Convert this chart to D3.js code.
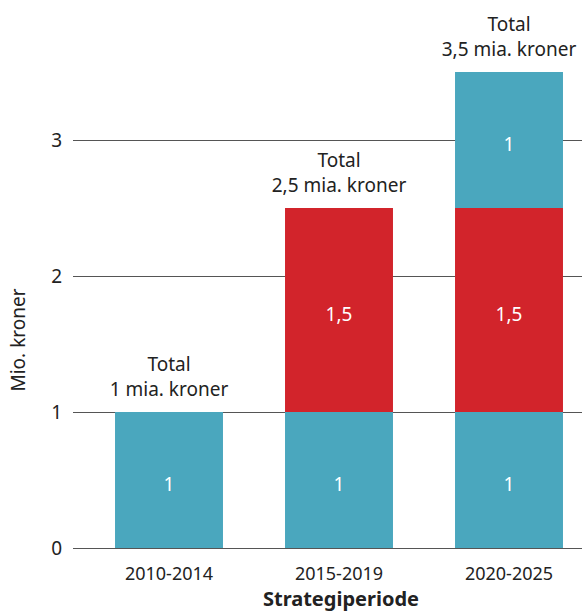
<!DOCTYPE html>
<html>
<head>
    <meta charset="utf-8">
    <title>Strategiperiode</title>
    <script src="https://d3js.org/d3.v7.min.js"></script>
    <style>
        body { margin: 0; background: #fff; }
        text { font-family: "Noto Sans", "Open Sans", sans-serif; }
    </style>
</head>
<body>
    <div id="chart"></div>
    <script>
        // data
        var periods = ["2010-2014", "2015-2019", "2020-2025"];
        var serie1 = [1, 1, 1];       // first tranche
        var serie2 = [0, 1.5, 1.5];   // second tranche
        var serie3 = [0, 0, 1];       // third tranche
        var totals = ["1", "2,5", "3,5"];
        var yTicks = [0, 1, 2, 3];
        var seriesKeys = ["s1", "s2", "s3"];
        var colors = ["#4aa7be", "#d2242b", "#4aa7be"];

        var rows = periods.map(function(p, i) {
            return {period: p, s1: serie1[i], s2: serie2[i], s3: serie3[i]};
        });

        var svg = d3.select("#chart")
            .append("svg")
            .attr("width", 582)
            .attr("height", 612);

        var x = d3.scaleBand()
            .domain(periods)
            .range([84, 594])
            .paddingInner(0.365)
            .paddingOuter(0.1825);

        var y = d3.scaleLinear()
            .domain([0, 4])
            .range([548, 4]);

        // gridlines
        svg.selectAll("line.grid")
            .data(yTicks)
            .enter()
            .append("line")
            .attr("x1", 73)
            .attr("x2", 582)
            .attr("y1", function(d) { return Math.round(y(d)) + 0.5; })
            .attr("y2", function(d) { return Math.round(y(d)) + 0.5; })
            .attr("stroke", "#555")
            .attr("stroke-width", 1);

        svg.selectAll("text.ytick")
            .data(yTicks)
            .enter()
            .append("text")
            .attr("x", 62)
            .attr("y", function(d) { return y(d) + 7; })
            .attr("text-anchor", "end")
            .style("font-size", "19px")
            .style("fill", "#222")
            .text(function(d) { return d; });

        // stacked bars
        var stack = d3.stack().keys(seriesKeys);
        var layers = stack(rows);

        layers.forEach(function(layer, li) {
            svg.append("g").selectAll("rect")
                .data(layer.filter(function(d) { return d[1] - d[0] > 0; }))
                .enter()
                .append("rect")
                .attr("x", function(d) { return x(d.data.period); })
                .attr("width", x.bandwidth())
                .attr("y", function(d) { return y(d[1]); })
                .attr("height", function(d) { return y(d[0]) - y(d[1]); })
                .style("fill", colors[li]);

            svg.append("g").selectAll("text")
                .data(layer.filter(function(d) { return d[1] - d[0] > 0; }))
                .enter()
                .append("text")
                .attr("x", function(d) { return x(d.data.period) + x.bandwidth() / 2; })
                .attr("y", function(d) { return (y(d[0]) + y(d[1])) / 2 + 11; })
                .attr("text-anchor", "middle")
                .style("font-size", "19px")
                .style("fill", "#fff")
                .text(function(d) { return String(d[1] - d[0]).replace(".", ","); });
        });

        // total labels, two lines above each bar
        var topLayer = layers[layers.length - 1];
        topLayer.forEach(function(d, i) {
            var cx = x(d.data.period) + x.bandwidth() / 2;
            svg.append("text")
                .attr("x", cx)
                .attr("y", y(d[1]) - 41)
                .attr("text-anchor", "middle")
                .style("font-size", "19px")
                .style("fill", "#222")
                .text("Total");
            svg.append("text")
                .attr("x", cx)
                .attr("y", y(d[1]) - 16)
                .attr("text-anchor", "middle")
                .style("font-size", "19px")
                .style("fill", "#222")
                .text(totals[i] + " mia. kroner");
        });

        // x axis labels
        svg.selectAll("text.xtick")
            .data(periods)
            .enter()
            .append("text")
            .attr("x", function(d) { return x(d) + x.bandwidth() / 2; })
            .attr("y", 580)
            .attr("text-anchor", "middle")
            .style("font-size", "18px")
            .style("fill", "#222")
            .text(function(d) { return d; });

        svg.append("text")
            .attr("x", 341)
            .attr("y", 606)
            .attr("text-anchor", "middle")
            .style("font-size", "20px")
            .style("font-weight", "bold")
            .style("fill", "#222")
            .text("Strategiperiode");

        svg.append("text")
            .attr("transform", "translate(25,340) rotate(-90)")
            .attr("text-anchor", "middle")
            .style("font-size", "19px")
            .style("fill", "#222")
            .text("Mio. kroner");
    </script>
</body>
</html>
